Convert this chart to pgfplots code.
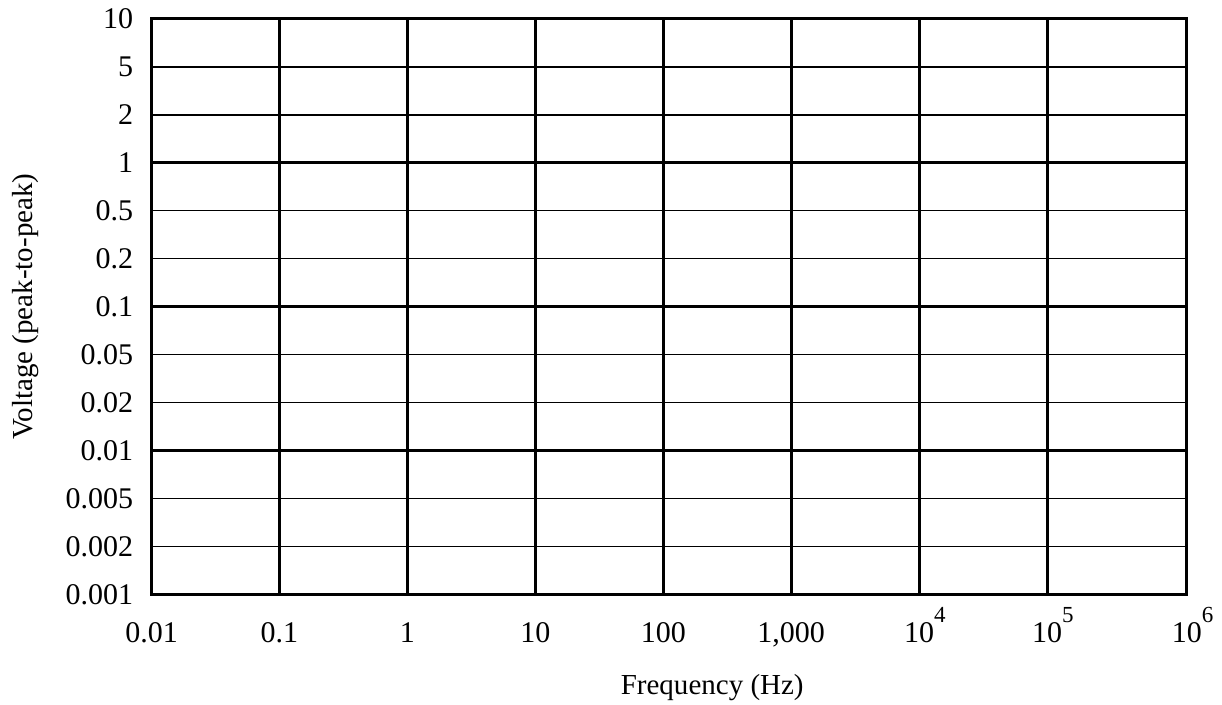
\documentclass[border=0pt]{standalone}
\usepackage{fontspec}
\setmainfont{Liberation Serif}
\usepackage{pgfplots}
\pgfplotsset{compat=1.18}
\newcommand{\tenpow}[1]{10\rlap{\raisebox{10pt}{\fontsize{11.5}{13}\selectfont #1}}}
\begin{document}
\fontsize{14.5}{17}\selectfont
\begin{tikzpicture}
\begin{axis}[
  name=ax,
  scale only axis,
  width=517.5pt, height=287.5pt,
  xmin=0, xmax=8.094, ymin=0, ymax=12,
  axis line style={line width=1.5pt, black},
  xtick={0,1,2,3,4,5,6,7,8.094},
  xticklabels={0.01,0.1,1,10,100,{1,000},\tenpow{4},\tenpow{5},\tenpow{6}},
  ytick={0,...,12},
  yticklabels={0.001,0.002,0.005,0.01,0.02,0.05,0.1,0.2,0.5,1,2,5,10},
  major tick length=0pt,
  xmajorgrids, ymajorgrids,
  x grid style={line width=1.5pt, black},
  y grid style={line width=0.75pt, black},
  extra y ticks={3,6,9},
  extra y tick labels={},
  extra y tick style={ymajorgrids=true, y grid style={line width=1.5pt, black}, major grid style={line width=1.5pt, black}, major tick length=0pt},
  xticklabel style={anchor=base, inner sep=0pt, yshift=-24pt, font=\fontsize{15}{17}\selectfont},
  yticklabel style={anchor=east, inner sep=0pt, xshift=-9pt, font=\fontsize{15}{17}\selectfont},
  xlabel={Frequency (Hz)},
  ylabel={Voltage (peak-to-peak)},
  xlabel style={at={(axis description cs:0.5415,0)}, anchor=base, inner sep=0pt, yshift=-50pt, font=\fontsize{14.5}{17}\selectfont},
  ylabel style={at={(axis description cs:0,0.5)}, anchor=base, inner sep=0pt, yshift=59.75pt, font=\fontsize{14.5}{17}\selectfont},
  clip=false,
]
\end{axis}
\pgfresetboundingbox
\path (ax.south west) ++(-75.75pt,-55pt) rectangle ([xshift=17.5pt,yshift=9.5pt]ax.north east);
\end{tikzpicture}
\end{document}
